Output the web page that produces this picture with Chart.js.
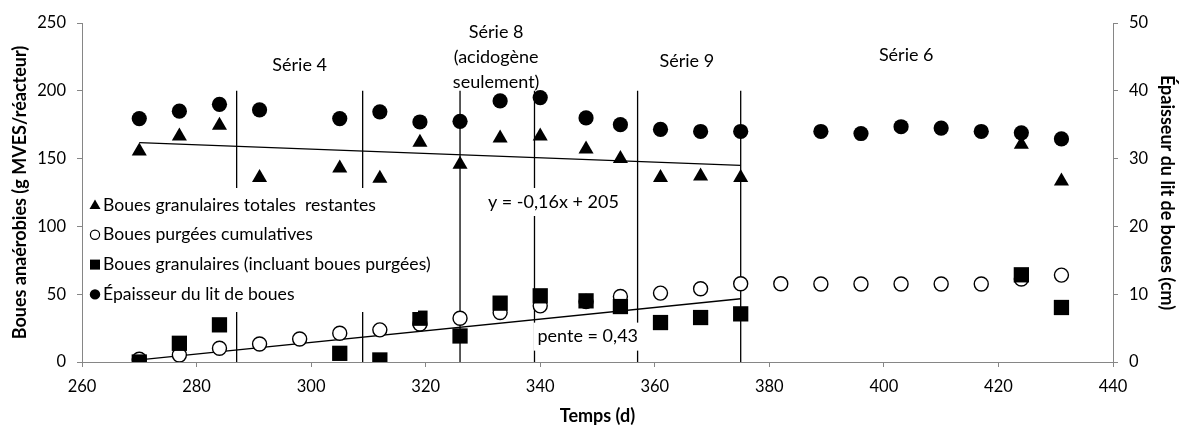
<!DOCTYPE html>
<html lang="fr">
<head>
<meta charset="utf-8">
<title>Boues anaérobies</title>
<script src="https://cdn.jsdelivr.net/npm/chart.js@4.4.1/dist/chart.umd.min.js"></script>
<style>
  html, body { margin: 0; padding: 0; background: #fff; }
  #wrap { width: 1184px; height: 425px; position: relative; }
</style>
</head>
<body>
<div id="wrap"><canvas id="chart"></canvas></div>
<script>
// sampling days (d)
const days = [270, 277, 284, 291, 298, 305, 312, 319, 326, 333, 340, 348, 354, 361, 368, 375, 382, 389, 396, 403, 410, 417, 424, 431];

// g MVES / réacteur
const granTotal = [155.5, 166.6, 174.5, 136, null, 143, 135.4, 162, 145.7, 165, 166.5, 157, 150, 136, 137, 136, null, null, null, null, null, null, 160.5, 133.4];
const purgeCumul = [2, 5.2, 10.1, 13.3, 17, 21.2, 23.7, 28, 32.3, 36.5, 41.4, 44.6, 48.3, 50.8, 54, 57.7, 57.7, 57.5, 57.5, 57.5, 57.5, 57.5, 61.2, 64.1];
const granPurge = [0, 13.8, 27.4, null, null, 6.4, 1.5, 32.3, 19.2, 43.4, 48.8, 45.1, 40.9, 29.1, 32.8, 35.5, null, null, null, null, null, null, 64.3, 40.2];

// cm
const epaisseur = [35.9, 37, 38, 37.2, null, 35.9, 36.9, 35.4, 35.5, 38.5, 39, 36, 35, 34.3, 34, 34, null, 34, 33.7, 34.7, 34.5, 34, 33.8, 32.9];

// limits between series (d)
const seriesBreaks = [287, 309, 326, 339, 357, 375];
const breakTop = 200;

// linear fits over days 270-375
const fitRange = [270, 375];
const fitTotal = { slope: -0.16, intercept: 205 };
const fitPurge = { slope: 0.43, intercept: -114.6 };

const seriesNames = ['Série 4', ['Série 8', '(acidogène', 'seulement)'], 'Série 9', 'Série 6'];
const fitLabels = ['y = -0,16x + 205', 'pente = 0,43'];

const FONT = 'Lato, "Liberation Sans", sans-serif';
const AXIS_GREY = '#868686';

const toPoints = (vals) => days.map((d, i) => ({ x: d, y: vals[i] })).filter(p => p.y !== null);
const fitPoints = (f) => fitRange.map(d => ({ x: d, y: f.slope * d + f.intercept }));

const lineSet = (data) => ({
  data: data,
  showLine: true,
  borderColor: '#000',
  borderWidth: 1.3,
  pointRadius: 0,
  order: 10,
  yAxisID: 'y'
});

// small marker for the legend
function drawMarker(ctx, style, x, y) {
  ctx.save();
  ctx.fillStyle = '#000';
  ctx.strokeStyle = '#000';
  ctx.lineWidth = 1.2;
  ctx.beginPath();
  if (style === 'triangle') {
    ctx.moveTo(x, y - 5.5);
    ctx.lineTo(x + 5.5, y + 4);
    ctx.lineTo(x - 5.5, y + 4);
    ctx.closePath();
    ctx.fill();
  } else if (style === 'rect') {
    ctx.rect(x - 5, y - 5, 10, 10);
    ctx.fill();
  } else if (style === 'open') {
    ctx.arc(x, y, 4.6, 0, Math.PI * 2);
    ctx.fillStyle = '#fff';
    ctx.fill();
    ctx.stroke();
  } else {
    ctx.arc(x, y, 5.2, 0, Math.PI * 2);
    ctx.fill();
  }
  ctx.restore();
}

const legendBox = {
  id: 'legendBox',
  afterDatasetsDraw(chart) {
    const ctx = chart.ctx;
    const area = chart.chartArea;
    const left = area.left + 2;
    const top = 188;
    ctx.save();
    ctx.fillStyle = '#fff';
    ctx.fillRect(left, top, 334, 124);
    ctx.font = '17.6px ' + FONT;
    ctx.fillStyle = '#000';
    ctx.textBaseline = 'middle';
    ctx.textAlign = 'left';
    chart.data.datasets.slice(0, 4).forEach((ds, i) => {
      const y = 205 + i * 29.8;
      drawMarker(ctx, ds.legendMarker, area.left + 13, y);
      ctx.fillText(ds.label, area.left + 21, y);
    });
    ctx.restore();
  }
};

const notes = {
  id: 'notes',
  afterDatasetsDraw(chart) {
    const ctx = chart.ctx;
    const x = chart.scales.x;
    const y = chart.scales.y;
    ctx.save();
    ctx.font = '18px ' + FONT;
    ctx.fillStyle = '#000';
    ctx.textAlign = 'center';
    ctx.textBaseline = 'middle';

    // series headings
    const spots = [[298, 219], [332.3, 243], [365.6, 222], [403.9, 226]];
    seriesNames.forEach((name, i) => {
      const lines = Array.isArray(name) ? name : [name];
      const px = x.getPixelForValue(spots[i][0]);
      const py = y.getPixelForValue(spots[i][1]);
      lines.forEach((t, j) => ctx.fillText(t, px, py + j * 25));
    });

    // fit labels on a white patch
    const fitSpots = [[342.3, 118], [348.3, 18.7]];
    fitLabels.forEach((t, i) => {
      const px = x.getPixelForValue(fitSpots[i][0]);
      const py = y.getPixelForValue(fitSpots[i][1]);
      const w = ctx.measureText(t).width;
      ctx.fillStyle = '#fff';
      ctx.fillRect(px - w / 2 - 4, py - 14, w + 8, 28);
      ctx.fillStyle = '#000';
      ctx.fillText(t, px, py);
    });
    ctx.restore();
  }
};

const tickFont = { family: FONT, size: 16.5 };
const titleFont = { family: FONT, size: 18, weight: 'bold', lineHeight: 1 };
const axisGrid = { display: true, drawOnChartArea: false, drawTicks: true, tickLength: 5, color: AXIS_GREY, lineWidth: 1 };

new Chart(document.getElementById('chart'), {
  type: 'scatter',
  data: {
    datasets: [
      {
        label: 'Boues granulaires totales  restantes',
        legendMarker: 'triangle',
        data: toPoints(granTotal),
        pointStyle: 'triangle',
        pointRadius: 8.7,
        backgroundColor: '#000',
        borderWidth: 0,
        order: 4,
        yAxisID: 'y'
      },
      {
        label: 'Boues purgées cumulatives',
        legendMarker: 'open',
        data: toPoints(purgeCumul),
        pointStyle: 'circle',
        pointRadius: 7,
        backgroundColor: '#fff',
        borderColor: '#000',
        borderWidth: 1.4,
        order: 3,
        yAxisID: 'y'
      },
      {
        label: 'Boues granulaires (incluant boues purgées)',
        legendMarker: 'rect',
        data: toPoints(granPurge),
        pointStyle: 'rect',
        pointRadius: 10.8,
        backgroundColor: '#000',
        borderWidth: 0,
        order: 2,
        yAxisID: 'y'
      },
      {
        label: 'Épaisseur du lit de boues',
        legendMarker: 'filled',
        data: toPoints(epaisseur),
        pointStyle: 'circle',
        pointRadius: 7.6,
        backgroundColor: '#000',
        borderWidth: 0,
        order: 1,
        yAxisID: 'y1'
      },
      lineSet(fitPoints(fitTotal)),
      lineSet(fitPoints(fitPurge)),
      ...seriesBreaks.map(d => lineSet([{ x: d, y: 0 }, { x: d, y: breakTop }]))
    ]
  },
  options: {
    responsive: true,
    maintainAspectRatio: false,
    animation: false,
    layout: { padding: { top: 23, left: 0, right: 0, bottom: 0 } },
    plugins: {
      legend: { display: false },
      tooltip: { enabled: false }
    },
    scales: {
      x: {
        type: 'linear',
        position: 'bottom',
        min: 260,
        max: 440,
        ticks: { stepSize: 20, color: '#000', font: tickFont, padding: 10, maxRotation: 0 },
        grid: axisGrid,
        border: { display: true, color: AXIS_GREY, width: 1 },
        title: { display: true, text: 'Temps (d)', color: '#000', font: titleFont, padding: { top: 0, bottom: 0 } },
        afterFit: (s) => { s.height = 63; }
      },
      y: {
        position: 'left',
        min: 0,
        max: 250,
        ticks: { stepSize: 50, color: '#000', font: tickFont, padding: 11 },
        grid: axisGrid,
        border: { display: true, color: AXIS_GREY, width: 1 },
        title: { display: true, text: 'Boues anaérobies (g MVES/réacteur)', color: '#000', font: titleFont, padding: { top: 11, bottom: 0 } },
        afterFit: (s) => { s.width = 82; }
      },
      y1: {
        position: 'right',
        min: 0,
        max: 50,
        ticks: { stepSize: 10, color: '#000', font: tickFont, padding: 11 },
        grid: axisGrid,
        border: { display: true, color: AXIS_GREY, width: 1 },
        title: { display: true, text: 'Épaisseur du lit de boues (cm)', color: '#000', font: titleFont, padding: { top: 8, bottom: 0 } },
        afterFit: (s) => { s.width = 71; }
      }
    }
  },
  plugins: [legendBox, notes]
});
</script>
</body>
</html>
